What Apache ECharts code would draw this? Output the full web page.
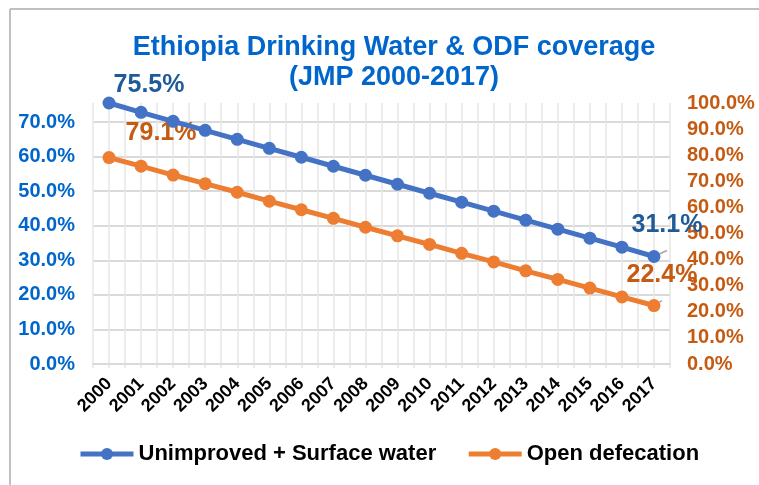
<!DOCTYPE html>
<html>
<head>
<meta charset="utf-8">
<script src="https://cdn.jsdelivr.net/npm/echarts@6/dist/echarts.min.js"></script>
<style>
    html, body { margin: 0; padding: 0; background: #fff; }
    #main { width: 759px; height: 485px; }
</style>
</head>
<body>
<div id="main"></div>
<script>
const years = ['2000', '2001', '2002', '2003', '2004', '2005', '2006', '2007', '2008',
    '2009', '2010', '2011', '2012', '2013', '2014', '2015', '2016', '2017'];
// unimproved + surface water (left axis)
const waterData = [0.755, 0.728, 0.702, 0.676, 0.650, 0.624, 0.598, 0.572, 0.546,
    0.520, 0.494, 0.468, 0.442, 0.416, 0.390, 0.364, 0.338, 0.311];
// open defecation (right axis)
const odfData = [0.791, 0.758, 0.724, 0.691, 0.658, 0.624, 0.591, 0.558, 0.524,
    0.491, 0.458, 0.424, 0.391, 0.357, 0.324, 0.291, 0.257, 0.224];
const gridSlots = 36; // major + minor vertical gridlines

const BLUE = '#4472c4';
const ORANGE = '#ed7d31';
const BLUE_TXT = '#0066cc';
const BLUE_LBL = '#1f5b99';
const ORANGE_LBL = '#c55a11';
const FONT = 'Liberation Sans, Arial, sans-serif';

function pct(v) { return (v * 100).toFixed(1) + '%'; }

// only first and last points carry a label
function withLabels(arr, color, firstOff, lastOff) {
    return arr.map((v, i) => {
        if (i === 0 || i === arr.length - 1) {
            return {
                value: v,
                label: {
                    show: true,
                    position: 'top',
                    offset: i === 0 ? firstOff : lastOff,
                    formatter: p => pct(p.value),
                    color: color,
                    fontSize: 25,
                    fontWeight: 'bold',
                    fontFamily: FONT
                },
                labelLine: {
                    show: i !== 0,
                    lineStyle: { color: '#a6a6a6', width: 1.5 }
                }
            };
        }
        return v;
    });
}

var myChart = echarts.init(document.getElementById('main'));

let option = {
    animation: false,
    title: {
        text: 'Ethiopia Drinking Water & ODF coverage\n(JMP 2000-2017)',
        left: 389,
        top: 28,
        textAlign: 'center',
        textStyle: {
            color: BLUE_TXT,
            fontSize: 27,
            fontWeight: 'bold',
            fontFamily: FONT,
            lineHeight: 30
        }
    },
    graphic: [
        { type: 'line', shape: { x1: 10, y1: 9, x2: 759, y2: 9 }, style: { stroke: '#c0c0c0', lineWidth: 2 } },
        { type: 'line', shape: { x1: 10, y1: 9, x2: 10, y2: 485 }, style: { stroke: '#c0c0c0', lineWidth: 2 } }
    ],
    legend: {
        left: 78,
        top: 443,
        padding: 0,
        itemWidth: 53,
        itemHeight: 15,
        itemGap: 30,
        lineStyle: { width: 5 },
        textStyle: {
            color: '#000',
            fontSize: 22,
            fontWeight: 'bold',
            fontFamily: FONT
        }
    },
    grid: {
        left: 93,
        right: 89,
        top: 103,
        bottom: 121
    },
    xAxis: [{
        type: 'category',
        data: years,
        boundaryGap: true,
        axisLine: { lineStyle: { color: '#d9d9d9', width: 2 } },
        axisTick: { show: false },
        splitLine: { show: false },
        axisLabel: {
            interval: 0,
            rotate: 45,
            margin: 17,
            color: '#000',
            fontSize: 18,
            fontWeight: 'bold',
            fontFamily: FONT
        }
    }, {
        // hidden axis only for the vertical gridlines
        type: 'value',
        position: 'bottom',
        min: 0,
        max: gridSlots,
        interval: 1,
        axisLine: { show: false },
        axisLabel: { show: false },
        axisTick: { show: true, length: 4, lineStyle: { color: '#e3e3e3', width: 1.5 } },
        splitLine: { show: true, lineStyle: { color: '#e6e6e6', width: 1.5 } }
    }],
    yAxis: [{
        type: 'value',
        min: 0,
        max: 0.755,
        interval: 0.1,
        axisLine: { show: false },
        axisTick: { show: false },
        splitLine: { show: true, showMaxLine: false, lineStyle: { color: '#d9d9d9', width: 2 } },
        axisLabel: {
            showMaxLabel: false,
            margin: 18,
            formatter: v => pct(v),
            color: BLUE_TXT,
            fontSize: 20,
            fontWeight: 'bold',
            fontFamily: FONT
        }
    }, {
        type: 'value',
        min: 0,
        max: 1,
        interval: 0.1,
        position: 'right',
        axisLine: { show: false },
        axisTick: { show: false },
        splitLine: { show: false },
        axisLabel: {
            margin: 17,
            formatter: v => pct(v),
            color: ORANGE_LBL,
            fontSize: 20,
            fontWeight: 'bold',
            fontFamily: FONT
        }
    }],
    series: [{
        name: 'Unimproved + Surface water',
        type: 'line',
        yAxisIndex: 0,
        xAxisIndex: 0,
        symbol: 'circle',
        symbolSize: 13,
        color: BLUE,
        lineStyle: { width: 5 },
        z: 3,
        data: withLabels(waterData, BLUE_LBL, [40, 6], [13, -7])
    }, {
        name: 'Open defecation',
        type: 'line',
        yAxisIndex: 1,
        xAxisIndex: 0,
        symbol: 'circle',
        symbolSize: 13,
        color: ORANGE,
        lineStyle: { width: 5 },
        z: 2,
        data: withLabels(odfData, ORANGE_LBL, [52, 0], [8, -6])
    }]
};

myChart.setOption(option);
</script>
</body>
</html>
